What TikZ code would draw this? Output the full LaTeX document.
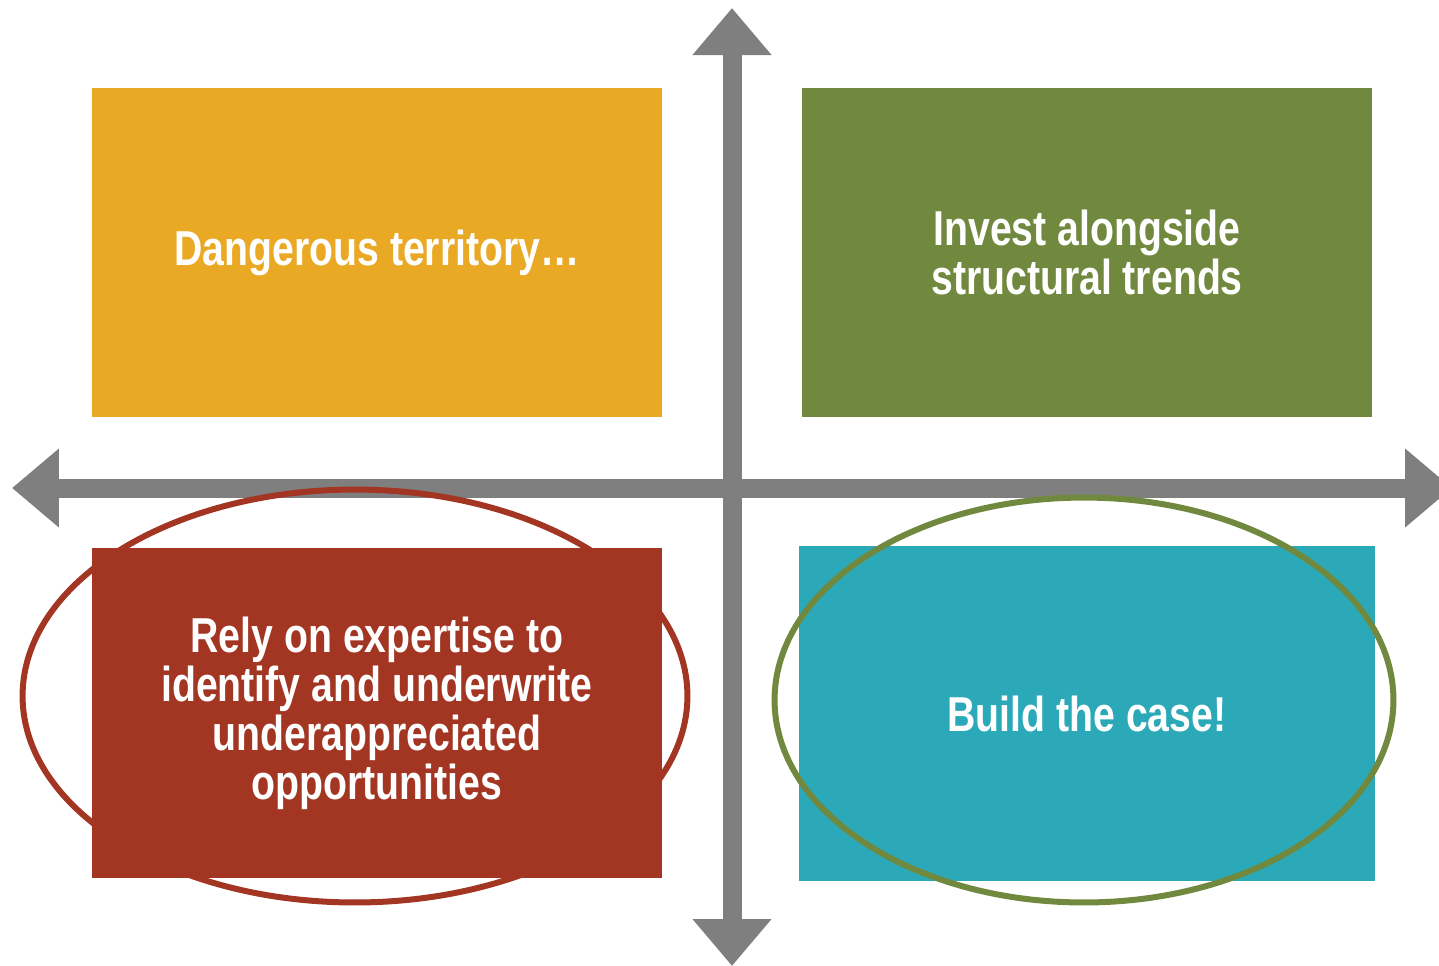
\documentclass[tikz,border=0pt]{standalone}
\usepackage{fontspec}
\setmainfont{Liberation Sans}[FakeStretch=0.8]
\usepackage{tikz}
\usetikzlibrary{arrows.meta}
\usetikzlibrary{shapes.geometric}

\definecolor{axisgray}{HTML}{7F7F7F}
\definecolor{quadorange}{HTML}{EAA925}
\definecolor{quadgreen}{HTML}{71893F}
\definecolor{quadred}{HTML}{A23622}
\definecolor{quadteal}{HTML}{2BA9B9}

\begin{document}
\begin{tikzpicture}[x=0.02cm,y=-0.02cm]
	\clip (0,0) rectangle (1439,965);
	\useasboundingbox (0,0) rectangle (1439,965);
	% axes
	\coordinate (top) at (732,8);
	\coordinate (bottom) at (732,966);
	\coordinate (left) at (12,488);
	\coordinate (right) at (1452,488);
	\begin{scope}[line width=0.38cm, draw=axisgray,
	              >={Triangle[length=0.94cm,width=1.52cm,axisgray]}]
		\draw[<->] (bottom) -- (top);
		\draw[<->] (left) -- (right);
	\end{scope}
	\node[ellipse, draw=quadred, line width=0.12cm, minimum width=13.3cm, minimum height=8.26cm]
		(redring) at (355,696) {};
	\begin{scope}[every node/.style={rectangle, inner sep=0pt, text=white, align=center,
	              font=\fontsize{27.9}{27.9}\selectfont\bfseries}]
		\node[fill=quadorange, minimum width=11.4cm, minimum height=6.58cm] (danger) at (377,252.5)
			{Dangerous territory…};
		\node[fill=quadgreen, minimum width=11.4cm, minimum height=6.58cm] (invest) at (1087,252.5)
			{Invest alongside\\structural trends};
		\node[fill=quadred, minimum width=11.4cm, minimum height=6.6cm] (rely) at (377,713)
			{Rely on expertise to\\identify and underwrite\\underappreciated\\opportunities};
		\node[fill=quadteal, minimum width=11.52cm, minimum height=6.7cm] (build) at (1087,713.5)
			{Build the case!};
	\end{scope}
	\node[ellipse, draw=quadgreen, line width=0.12cm, minimum width=12.38cm, minimum height=8.1cm]
		(greenring) at (1084,700) {};
\end{tikzpicture}
\end{document}
